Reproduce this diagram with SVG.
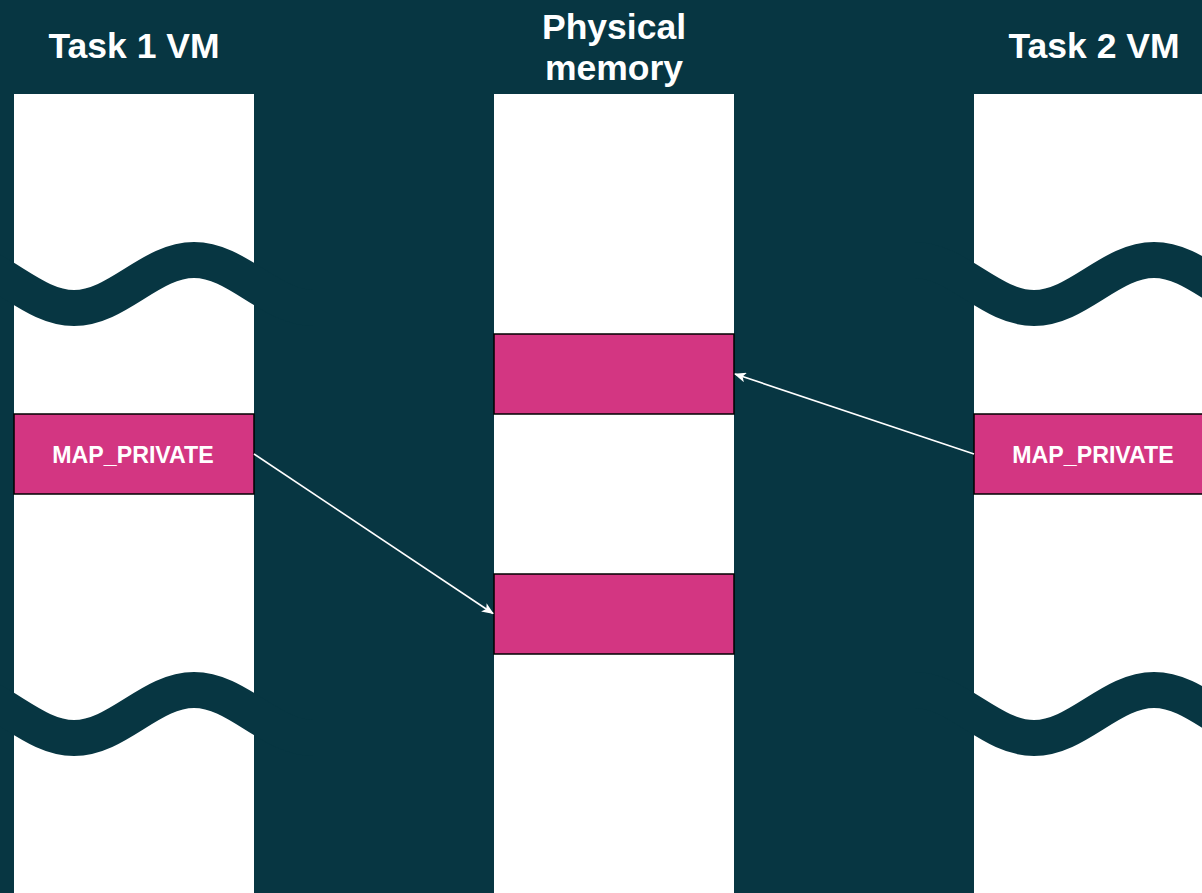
<svg xmlns="http://www.w3.org/2000/svg" width="1202" height="893" viewBox="0 0 1202 893">
  <style>
    .bg { fill: #073642; }
    .column { fill: #ffffff; }
    .region { fill: #d33682; stroke: #000000; stroke-width: 1.5; }
    .title { font-family: "Liberation Sans", Arial, sans-serif; font-weight: bold; font-size: 35.5px; fill: #ffffff; text-anchor: middle; }
    .label { font-family: "Liberation Sans", Arial, sans-serif; font-weight: bold; font-size: 23.2px; fill: #ffffff; text-anchor: middle; }
    .wave { fill: none; stroke: #073642; stroke-width: 36; }
    .link { fill: none; stroke: #ffffff; stroke-width: 1.6; }
  </style>
  <defs>
    <!-- one sine period (240 wide, amplitude 24) centred on its start point, padded on both sides -->
    <path id="wave" class="wave" d="M -60 -24 C -38.29 -24 -19.57 -12.29 0 0 C 19.57 12.29 38.29 24 60 24 C 81.71 24 100.43 12.29 120 0 C 139.57 -12.29 158.29 -24 180 -24 C 201.71 -24 220.43 -12.29 240 0 C 259.57 12.29 278.29 24 300 24"/>
    <marker id="arrow" viewBox="0 0 12 10" refX="11" refY="5" markerWidth="12" markerHeight="10" markerUnits="userSpaceOnUse" orient="auto">
      <path d="M 0 0 L 12 5 L 0 10 L 3 5 Z" fill="#ffffff"/>
    </marker>
  </defs>

  <rect class="bg" x="0" y="0" width="1202" height="893"/>

  <!-- Task 1 virtual memory -->
  <g id="task1-vm">
    <rect class="column" x="14" y="94" width="240" height="820"/>
    <text class="title" x="134" y="58">Task 1 VM</text>
    <use href="#wave" transform="translate(14,284)"/>
    <use href="#wave" transform="translate(14,714)"/>
  </g>
  <g id="task1-private">
    <rect class="region" x="14" y="414" width="240" height="80"/>
    <text class="label" x="133" y="463">MAP_PRIVATE</text>
  </g>

  <!-- Physical memory -->
  <g id="physical-memory">
    <rect class="column" x="494" y="94" width="240" height="820"/>
    <text class="title" x="614" y="39">Physical</text>
    <text class="title" x="614" y="80">memory</text>
  </g>
  <g id="page-upper">
    <rect class="region" x="494" y="334" width="240" height="80"/>
  </g>
  <g id="page-lower">
    <rect class="region" x="494" y="574" width="240" height="80"/>
  </g>

  <!-- Task 2 virtual memory -->
  <g id="task2-vm">
    <rect class="column" x="974" y="94" width="240" height="820"/>
    <text class="title" x="1094" y="58">Task 2 VM</text>
    <use href="#wave" transform="translate(974,284)"/>
    <use href="#wave" transform="translate(974,714)"/>
  </g>
  <g id="task2-private">
    <rect class="region" x="974" y="414" width="240" height="80"/>
    <text class="label" x="1093" y="463">MAP_PRIVATE</text>
  </g>

  <!-- mappings -->
  <g id="connectors">
    <line class="link" x1="254" y1="454" x2="493" y2="613.5" marker-end="url(#arrow)"/>
    <line class="link" x1="974" y1="454" x2="735" y2="374" marker-end="url(#arrow)"/>
  </g>
</svg>
